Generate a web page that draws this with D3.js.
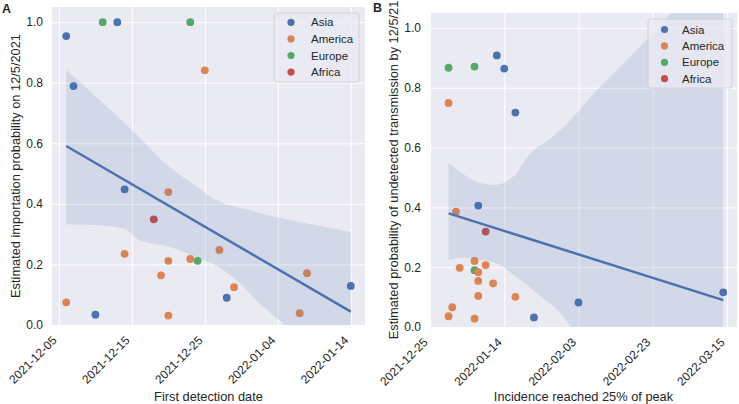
<!DOCTYPE html>
<html>
<head>
<meta charset="utf-8">
<script src="https://cdn.jsdelivr.net/npm/d3@7"></script>
<style>
  body { margin: 0; background: #ffffff; }
  svg { display: block; }
  text { font-family: "Liberation Sans", Arial, sans-serif; fill: #262626; }
</style>
</head>
<body>
<script>
// ---------------- DATA ----------------
const regions = ["Asia", "America", "Europe", "Africa"];
const regionColors = ["#4C72B0", "#DD8452", "#55A868", "#C44E52"];
const yTicks = [0, 0.2, 0.4, 0.6, 0.8, 1.0];

// Panel A: first detection date vs importation probability
const datesA = ["2021-12-06","2021-12-07","2021-12-11","2021-12-13","2021-12-23","2021-12-25",
  "2021-12-14","2021-12-20","2021-12-18","2021-12-14","2021-12-20","2021-12-19","2021-12-23",
  "2021-12-24","2021-12-27","2021-12-28","2021-12-29","2021-12-06","2021-12-10","2021-12-20",
  "2022-01-08","2022-01-07","2022-01-14"];
const probA = [0.954,0.789,1.0,1.0,1.0,0.841,
  0.448,0.439,0.349,0.235,0.212,0.164,0.218,
  0.212,0.248,0.090,0.125,0.075,0.034,0.031,
  0.171,0.039,0.129];
const regionA = ["Asia","Asia","Europe","Asia","Europe","America",
  "Asia","America","Africa","America","America","America","America",
  "Europe","America","Asia","America","America","Asia","America",
  "America","America","Asia"];
const tickLabelsA = ["2021-12-05","2021-12-15","2021-12-25","2022-01-04","2022-01-14"];
const fitDatesA = ["2021-12-06","2022-01-14"];
const fitValuesA = [0.591, 0.044];
const bandUpperDatesA = ["2021-12-06","2021-12-15","2021-12-20","2021-12-24","2021-12-26","2021-12-31","2022-01-04","2022-01-07","2022-01-14"];
const bandUpperA = [0.842,0.644,0.525,0.455,0.42,0.38,0.355,0.34,0.307];
const bandLowerDatesA = ["2021-12-06","2021-12-10","2021-12-14","2021-12-16","2021-12-20","2021-12-24","2021-12-27","2021-12-29","2022-01-02","2022-01-05","2022-01-14"];
const bandLowerA = [0.333,0.33,0.318,0.281,0.259,0.222,0.19,0.155,0.061,0.0,-0.17];

// Panel B: date incidence reached 25% of peak vs undetected transmission probability
const datesB = ["2021-12-30","2022-01-06","2022-01-12","2022-01-14","2021-12-30","2022-01-17",
  "2022-01-07","2022-01-01","2022-01-09","2022-01-06","2022-01-02","2022-01-06","2022-01-07",
  "2022-01-09","2022-01-07","2022-01-11","2022-01-07","2022-01-17","2021-12-31","2021-12-30",
  "2022-01-06","2022-01-22","2022-02-03","2022-03-14"];
const probB = [0.867,0.871,0.908,0.864,0.749,0.717,
  0.406,0.386,0.319,0.221,0.198,0.190,0.183,
  0.207,0.154,0.146,0.104,0.101,0.066,0.036,
  0.028,0.032,0.082,0.116];
const regionB = ["Europe","Europe","Asia","Asia","America","Asia",
  "Asia","America","Africa","America","America","Europe","America",
  "America","America","America","America","America","America","America",
  "America","Asia","Asia","Asia"];
const tickLabelsB = ["2021-12-25","2022-01-14","2022-02-03","2022-02-23","2022-03-15"];
const fitDatesB = ["2021-12-30","2022-03-14"];
const fitValuesB = [0.380, 0.090];
const bandUpperDatesB = ["2021-12-30","2022-01-02","2022-01-05","2022-01-08","2022-01-11","2022-01-13","2022-01-15","2022-01-17","2022-01-19","2022-01-21","2022-01-26","2022-02-01","2022-02-06","2022-02-19","2022-02-28","2022-03-14"];
const bandUpperB = [0.548,0.52,0.495,0.48,0.475,0.478,0.49,0.51,0.545,0.58,0.625,0.695,0.765,0.93,1.05,1.25];
const bandLowerDatesB = ["2021-12-30","2022-01-03","2022-01-07","2022-01-12","2022-01-17","2022-01-24","2022-01-30","2022-02-01","2022-03-14"];
const bandLowerB = [0.224,0.232,0.226,0.213,0.17,0.101,0.034,0.0,-0.6];

// ---------------- DRAW ----------------
const W = 739, H = 404;
const parse = d3.utcParse("%Y-%m-%d");
const DAY = 864e5;
const color = d3.scaleOrdinal().domain(regions).range(regionColors);
const svg = d3.select("body").append("svg").attr("width", W).attr("height", H);

function drawPanel(cfg) {
  const g = svg.append("g");
  const x = d3.scaleUtc().domain(cfg.xDomain).range([cfg.left, cfg.right]);
  const y = d3.scaleLinear().domain([0, 1.05]).range([cfg.bottom, cfg.top]);

  g.append("rect").attr("x", cfg.left).attr("y", cfg.top)
    .attr("width", cfg.right - cfg.left).attr("height", cfg.bottom - cfg.top)
    .attr("fill", "#EAEAF2");

  const clipId = "clip" + cfg.id;
  g.append("clipPath").attr("id", clipId).append("rect")
    .attr("x", cfg.left).attr("y", cfg.top)
    .attr("width", cfg.right - cfg.left).attr("height", cfg.bottom - cfg.top);

  // grid via axes
  const tickDates = cfg.tickLabels.map(parse);
  const xGrid = d3.axisBottom(x).tickValues(tickDates).tickSize(-(cfg.bottom - cfg.top)).tickFormat("");
  const gx = g.append("g").attr("transform", `translate(0,${cfg.bottom})`).call(xGrid);
  gx.select(".domain").remove();
  gx.selectAll("line").attr("stroke", "#ffffff").attr("stroke-width", 1);
  const yGrid = d3.axisLeft(y).tickValues(yTicks).tickSize(-(cfg.right - cfg.left)).tickFormat("");
  const gy = g.append("g").attr("transform", `translate(${cfg.left},0)`).call(yGrid);
  gy.select(".domain").remove();
  gy.selectAll("line").attr("stroke", "#ffffff").attr("stroke-width", 1);

  // tick labels
  const xAx = d3.axisBottom(x).tickValues(tickDates).tickSize(0).tickPadding(0)
    .tickFormat((d, i) => cfg.tickLabels[i]);
  const ax = g.append("g").attr("transform", `translate(0,${cfg.bottom})`).call(xAx);
  ax.select(".domain").remove();
  ax.selectAll("text")
    .attr("text-anchor", "end")
    .attr("font-size", 12)
    .attr("fill", "#262626")
    .attr("y", 0).attr("dy", 0)
    .attr("transform", "translate(-2,16) rotate(-45)");

  const yAx = d3.axisLeft(y).tickValues(yTicks).tickSize(0).tickPadding(9).tickFormat(d3.format(".1f"));
  const ay = g.append("g").attr("transform", `translate(${cfg.left},0)`).call(yAx);
  ay.select(".domain").remove();
  ay.selectAll("text").attr("font-size", 12).attr("fill", "#262626");

  // points
  const pts = cfg.dates.map((d, i) => ({ d: parse(d), v: cfg.probs[i], r: cfg.regions[i] }));
  g.append("g").selectAll("circle").data(pts).join("circle")
    .attr("cx", d => x(d.d)).attr("cy", d => y(d.v)).attr("r", 3.9)
    .attr("fill", d => color(d.r));

  // confidence band
  const up = cfg.bandUpperDates.map((d, i) => [x(parse(d)), y(cfg.bandUpper[i])]);
  const lo = cfg.bandLowerDates.map((d, i) => [x(parse(d)), y(cfg.bandLower[i])]).reverse();
  const cg = g.append("g").attr("clip-path", `url(#${clipId})`);
  cg.append("path").attr("d", d3.line().curve(d3.curveMonotoneX)(up) + "L" + d3.line().curve(d3.curveMonotoneX)(lo).slice(1) + "Z")
    .attr("fill", "#4C72B0").attr("fill-opacity", 0.15);

  // regression line
  const fit = cfg.fitDates.map((d, i) => [x(parse(d)), y(cfg.fitValues[i])]);
  cg.append("path").attr("d", d3.line()(fit))
    .attr("fill", "none").attr("stroke", "#4C72B0").attr("stroke-width", 2.5);

  // legend
  const L = cfg.legend;
  const lg = g.append("g");
  lg.append("rect").attr("x", L.x0).attr("y", L.y0).attr("width", L.x1 - L.x0).attr("height", L.y1 - L.y0)
    .attr("rx", 3).attr("fill", "#EAEAF2").attr("fill-opacity", 0.8)
    .attr("stroke", "#cccccc").attr("stroke-width", 0.8);
  regions.forEach((r, i) => {
    const yy = L.row0 + i * L.step;
    lg.append("circle").attr("cx", L.mx).attr("cy", yy).attr("r", 3.6).attr("fill", color(r));
    lg.append("text").attr("x", L.tx).attr("y", yy).attr("dy", "0.35em")
      .attr("font-size", 11.5).text(r);
  });

  // axis labels
  g.append("text").attr("x", (cfg.left + cfg.right) / 2).attr("y", 401)
    .attr("text-anchor", "middle").attr("font-size", 12.8).text(cfg.xLabel);
  g.append("text").attr("transform", `translate(${cfg.yLabelX},${(cfg.top + cfg.bottom) / 2}) rotate(-90)`)
    .attr("text-anchor", "middle").attr("font-size", 12.8).text(cfg.yLabel);

  // panel letter
  g.append("text").attr("x", cfg.letterX).attr("y", cfg.letterY)
    .attr("font-size", 12.5).attr("font-weight", "bold").attr("fill", "#000").text(cfg.letter);
}

drawPanel({
  id: "A", left: 52, right: 365, top: 7, bottom: 325,
  xDomain: [new Date(parse("2021-12-05").getTime() - 0.95 * DAY), new Date(parse("2022-01-14").getTime() + 1.95 * DAY)],
  tickLabels: tickLabelsA, dates: datesA, probs: probA, regions: regionA,
  fitDates: fitDatesA, fitValues: fitValuesA,
  bandUpperDates: bandUpperDatesA, bandUpper: bandUpperA,
  bandLowerDates: bandLowerDatesA, bandLower: bandLowerA,
  legend: { x0: 274, x1: 359, y0: 13, y1: 82, row0: 22.3, step: 16.6, mx: 291, tx: 311 },
  xLabel: "First detection date",
  yLabel: "Estimated importation probability on 12/5/2021",
  yLabelX: 20, letter: "A", letterX: 2, letterY: 13
});

drawPanel({
  id: "B", left: 430, right: 737, top: 13, bottom: 327,
  xDomain: [parse("2021-12-25"), new Date(parse("2022-03-15").getTime() + 2.7 * DAY)],
  tickLabels: tickLabelsB, dates: datesB, probs: probB, regions: regionB,
  fitDates: fitDatesB, fitValues: fitValuesB,
  bandUpperDates: bandUpperDatesB, bandUpper: bandUpperB,
  bandLowerDates: bandLowerDatesB, bandLower: bandLowerB,
  legend: { x0: 648, x1: 732, y0: 19, y1: 88, row0: 29.5, step: 16.4, mx: 664.5, tx: 682 },
  xLabel: "Incidence reached 25% of peak",
  yLabel: "Estimated probability of undetected transmission by 12/5/21",
  yLabelX: 398, letter: "B", letterX: 373, letterY: 12
});
</script>
</body>
</html>
